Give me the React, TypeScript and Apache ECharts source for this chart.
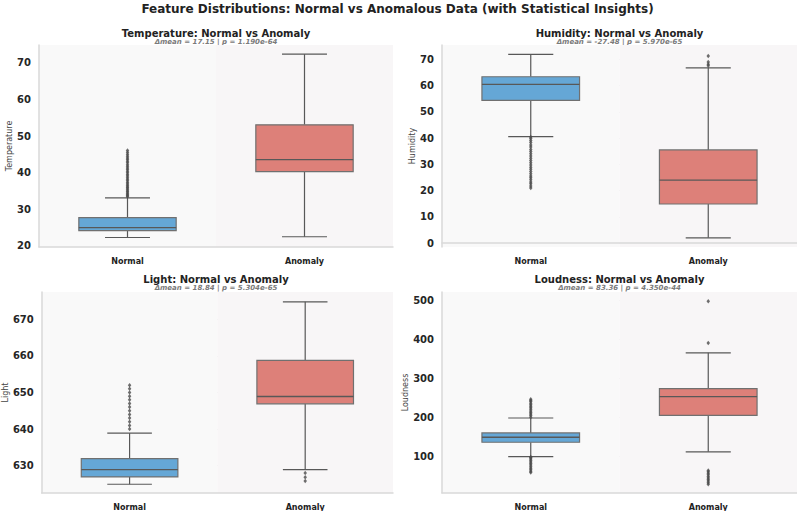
import React, { useEffect, useRef } from "react";
import * as echarts from "echarts";

// Categories shared by every panel
const categories = ["Normal", "Anomaly"];

// Box statistics per feature: [whiskerLow, Q1, median, Q3, whiskerHigh] for Normal, Anomaly
const temperatureStats = [
  [22.3, 24.2, 25.0, 27.7, 33.1],
  [22.5, 40.3, 43.6, 53.1, 72.4],
];
const humidityStats = [
  [40.6, 54.4, 60.5, 63.4, 71.9],
  [2.0, 14.9, 24.0, 35.5, 66.8],
];
const lightStats = [
  [624.9, 626.9, 628.9, 631.9, 638.9],
  [628.9, 646.9, 648.9, 658.8, 674.8],
];
const loudnessStats = [
  [100, 136.7, 149.5, 160.6, 198.9],
  [112, 205.8, 253.5, 274, 366],
];

// Outliers (fliers) per feature and group
const temperatureNormalOut = [33.4, 33.7, 34.0, 34.3, 34.7, 35.0, 35.4, 35.8, 36.1, 36.5, 36.9, 37.3, 37.8, 38.2, 38.6, 39.1, 39.5, 40.0, 40.4, 40.9, 41.3, 41.8, 42.2, 42.7, 43.1, 43.6, 44.0, 44.5, 45.0, 45.5, 46.1];
const temperatureAnomalyOut: number[] = [];
const humidityNormalOut = [21.0, 21.8, 22.6, 23.3, 24.1, 24.9, 25.6, 26.4, 27.3, 28.1, 28.9, 29.8, 30.6, 31.5, 32.3, 33.2, 34.0, 34.9, 35.7, 36.6, 37.4, 38.3, 39.1, 39.9, 40.4];
const humidityAnomalyOut = [67.6, 68.2, 69.0, 71.3];
const lightNormalOut = [640, 641, 642, 643, 644, 645, 646, 647, 648, 649, 650, 651, 652];
const lightAnomalyOut = [625.8, 626.8, 628.0];
const loudnessNormalOut = [59, 62, 66, 70, 74, 78, 82, 86, 90, 94, 97, 99, 201, 205, 209, 213, 217, 221, 225, 229, 233, 237, 241, 244, 247];
const loudnessAnomalyOut = [29, 33, 37, 41, 45, 49, 53, 57, 61, 64, 391, 498];

// Panel titles and statistic subtitles
const panelTitles = [
  "Temperature: Normal vs Anomaly",
  "Humidity: Normal vs Anomaly",
  "Light: Normal vs Anomaly",
  "Loudness: Normal vs Anomaly",
];
const panelSubtitles = [
  "\u0394mean = 17.15 | p = 1.190e-64",
  "\u0394mean = -27.48 | p = 5.970e-65",
  "\u0394mean = 18.84 | p = 5.304e-65",
  "\u0394mean = 83.36 | p = 4.350e-44",
];
const featureNames = ["Temperature", "Humidity", "Light", "Loudness"];

// Y-axis ranges and tick steps
const yMins = [19.7, -1.5, 622.5, 6.5];
const yMaxs = [74.9, 75.5, 677.5, 522];
const yIntervals = [10, 10, 10, 100];

const FONT = "DejaVu Sans";
const boxColors = ["#65a7d6", "#dd8079"];

const panels = [
  { stats: temperatureStats, out: [temperatureNormalOut, temperatureAnomalyOut] },
  { stats: humidityStats, out: [humidityNormalOut, humidityAnomalyOut] },
  { stats: lightStats, out: [lightNormalOut, lightAnomalyOut] },
  { stats: loudnessStats, out: [loudnessNormalOut, loudnessAnomalyOut] },
];

// Layout of the 2x2 grid
const grids = [
  { left: 39, top: 45, width: 354, height: 202 },
  { left: 442, top: 45, width: 355, height: 202 },
  { left: 39, top: 292, width: 354, height: 201 },
  { left: 442, top: 292, width: 355, height: 201 },
];
const nameGaps = [24, 23, 30, 30];
const titleY = [33, 33, 279.5, 279.5];
const subtitleY = [41.8, 41.8, 288.2, 288.2];

function renderBox(params: any, api: any) {
  const xi = api.value(0);
  const lo = api.coord([xi, api.value(1)]);
  const q1 = api.coord([xi, api.value(2)]);
  const md = api.coord([xi, api.value(3)]);
  const q3 = api.coord([xi, api.value(4)]);
  const hi = api.coord([xi, api.value(5)]);
  const band = api.size([1, 0])[0];
  const bw = band * 0.55;
  const cw = band * 0.254;
  const cx = lo[0];
  const whisker = { stroke: "#585858", lineWidth: 1.2 };
  return {
    type: "group",
    children: [
      { type: "line", shape: { x1: cx, y1: lo[1], x2: cx, y2: q1[1] }, style: whisker },
      { type: "line", shape: { x1: cx, y1: q3[1], x2: cx, y2: hi[1] }, style: whisker },
      { type: "line", shape: { x1: cx - cw / 2, y1: lo[1], x2: cx + cw / 2, y2: lo[1] }, style: whisker },
      { type: "line", shape: { x1: cx - cw / 2, y1: hi[1], x2: cx + cw / 2, y2: hi[1] }, style: whisker },
      {
        type: "rect",
        shape: { x: cx - bw / 2, y: q3[1], width: bw, height: q1[1] - q3[1] },
        style: { fill: boxColors[params.dataIndex], stroke: "#707070", lineWidth: 1.2 },
      },
      { type: "line", shape: { x1: cx - bw / 2, y1: md[1], x2: cx + bw / 2, y2: md[1] }, style: { stroke: "#585858", lineWidth: 1.3 } },
    ],
  };
}

export default function App() {
  const ref = useRef<HTMLDivElement>(null);

  useEffect(() => {
    if (!ref.current) return;
    const chart = echarts.init(ref.current, undefined, { renderer: "svg" });

    const xAxis = grids.map((_, i) => ({
      type: "category",
      gridIndex: i,
      data: categories,
      axisLine: { show: true, lineStyle: { color: "#d9d9d9", width: 1.5 } },
      axisTick: { show: false },
      axisLabel: { fontFamily: FONT, fontSize: 8, fontWeight: "bold", color: "#222", margin: 10 },
      splitLine: { show: false },
      splitArea: { show: true, areaStyle: { color: ["#f9f9f9", "#f8f6f7"] } },
    }));

    const yAxis = grids.map((_, i) => ({
      type: "value",
      gridIndex: i,
      min: yMins[i],
      max: yMaxs[i],
      minInterval: yIntervals[i],
      maxInterval: yIntervals[i],
      name: featureNames[i],
      nameLocation: "middle",
      nameGap: nameGaps[i],
      nameTextStyle: { fontFamily: FONT, fontSize: 8, color: "#444" },
      axisLine: { show: true, lineStyle: { color: "#d9d9d9", width: 1.5 } },
      axisTick: { show: false },
      axisLabel: {
        fontFamily: FONT,
        fontSize: 10,
        fontWeight: "bold",
        color: "#262626",
        margin: 8,
        showMinLabel: false,
        showMaxLabel: false,
      },
      splitLine: {
        show: true,
        showMinLine: false,
        showMaxLine: false,
        lineStyle: { color: "#e4e4e4", width: 0.8, type: [3, 2] },
      },
    }));

    const series: any[] = [];
    panels.forEach((p, i) => {
      series.push({
        type: "custom",
        xAxisIndex: i,
        yAxisIndex: i,
        renderItem: renderBox,
        encode: { x: 0, y: [1, 2, 3, 4, 5] },
        data: p.stats.map((s, k) => [k, ...s]),
        z: 3,
      });
      const pts: number[][] = [];
      p.out.forEach((arr, k) => arr.forEach((v) => pts.push([k, v])));
      series.push({
        type: "scatter",
        xAxisIndex: i,
        yAxisIndex: i,
        symbol: "diamond",
        symbolSize: [3.5, 4.5],
        itemStyle: { color: "#4a4a4a" },
        data: pts,
        z: 4,
      });
    });

    const textStyle = (text: string, size: number, extra: any) => ({
      text,
      fontFamily: FONT,
      fontSize: size,
      lineHeight: size,
      align: "center",
      verticalAlign: "middle",
      textAlign: "center",
      textVerticalAlign: "middle",
      ...extra,
    });

    const graphic: any[] = [
      {
        type: "text",
        x: 397.5,
        y: 8.5,
        style: textStyle(
          "Feature Distributions: Normal vs Anomalous Data (with Statistical Insights)",
          12,
          { fontWeight: "bold", fill: "#222" }
        ),
      },
    ];
    grids.forEach((g, i) => {
      const cx = g.left + g.width / 2;
      graphic.push({
        type: "text",
        x: cx,
        y: titleY[i],
        style: textStyle(panelTitles[i], 10, { fontWeight: "bold", fill: "#222" }),
      });
      graphic.push({
        type: "text",
        x: cx,
        y: subtitleY[i],
        style: textStyle(panelSubtitles[i], 7, {
          fontWeight: "bold",
          fontStyle: "italic",
          fill: "#7a7a7a",
        }),
      });
    });

    chart.setOption({
      animation: false,
      backgroundColor: "#ffffff",
      grid: grids,
      xAxis,
      yAxis,
      series,
      graphic,
    });

    return () => chart.dispose();
  }, []);

  return (
    <div
      ref={ref}
      style={{ position: "absolute", left: 0, top: 0, width: 797, height: 511 }}
    />
  );
}
